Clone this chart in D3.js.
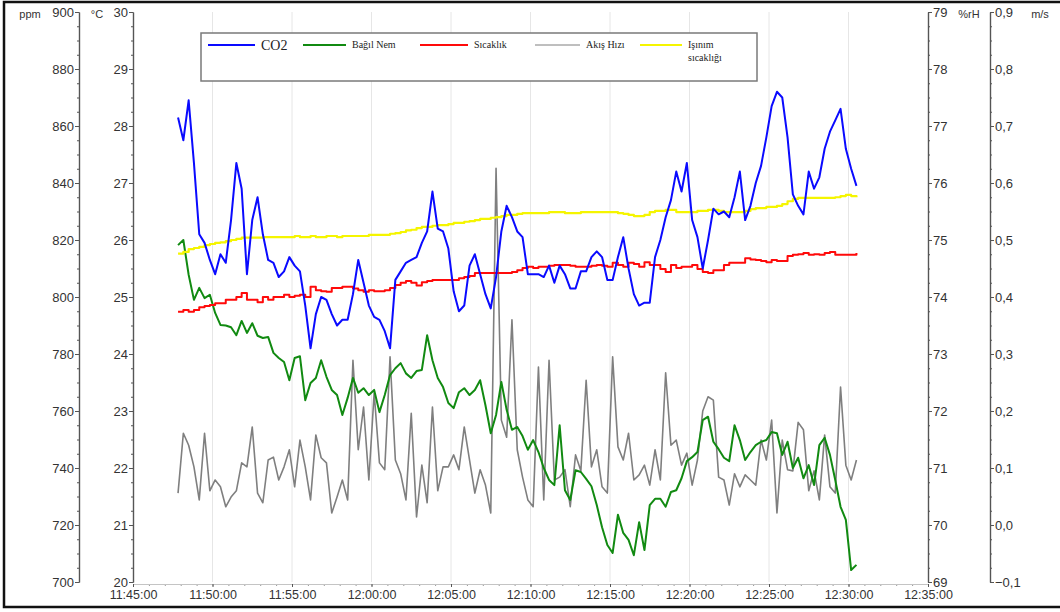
<!DOCTYPE html>
<html>
<head>
<meta charset="utf-8">
<script src="https://cdn.jsdelivr.net/npm/d3@7"></script>
<style>
  html, body { margin: 0; padding: 0; background: #fff; }
  svg { display: block; }
</style>
</head>
<body>
<div id="chart"></div>
<script>
// logger samples every 20 s starting at 11:47:50
const START_TIME = "11:47:50";
const STEP_SECONDS = 20;

const co2 = [
  863, 855, 869, 847, 822, 819, 813, 808, 815, 812,
  827, 847, 838, 808, 827, 835, 822, 813, 812, 807,
  809, 814, 811, 809, 797, 782, 794, 800, 799, 794,
  790, 792, 792, 801, 813, 805, 797, 793, 792, 788,
  782, 806, 809, 812, 813, 814, 819, 823, 837, 824,
  823, 817, 802, 795, 797, 811, 815, 808, 801, 796,
  807, 823, 832, 828, 823, 821, 808, 808, 808, 807,
  811, 805, 811, 808, 803, 803, 809, 809, 814, 816,
  814, 806, 806, 814, 821, 810, 801, 797, 798, 798,
  814, 820, 828, 834, 844, 837, 847, 827, 821, 810,
  820, 831, 829, 830, 828, 835, 844, 827, 832, 840,
  846, 856, 867, 872, 870, 856, 836, 832, 829, 844,
  838, 842, 852, 858, 862, 866, 852, 845, 839
];

const humidity = [
  74.91, 75.0, 74.39, 73.95, 74.16, 73.98, 74.04, 73.72, 73.51, 73.5,
  73.47, 73.33, 73.58, 73.37, 73.54, 73.32, 73.28, 73.3, 73.02, 72.93,
  72.86, 72.54, 72.93, 72.96, 72.19, 72.49, 72.58, 72.89, 72.6, 72.37,
  72.28, 71.93, 72.23, 72.58, 72.32, 72.4, 72.28, 72.37, 71.98, 72.28,
  72.63, 72.75, 72.84, 72.66, 72.58, 72.7, 72.72, 73.33, 72.89, 72.58,
  72.42, 72.14, 72.05, 72.33, 72.4, 72.28, 72.37, 72.54, 72.1, 71.61,
  71.93, 72.51, 72.02, 71.67, 71.72, 71.56, 71.32, 71.49, 71.28, 71.0,
  70.79, 70.7, 71.75, 70.61, 70.44, 70.96, 70.93, 70.81, 70.68, 70.35,
  69.96, 69.65, 69.51, 70.18, 69.86, 69.74, 69.47, 70.05, 69.56, 70.35,
  70.46, 70.46, 70.32, 70.58, 70.61, 70.82, 71.12, 71.19, 71.28, 71.84,
  71.9, 71.46, 71.33, 71.18, 71.12, 71.75, 71.49, 71.14, 71.28, 71.4,
  71.46, 71.49, 71.63, 71.61, 71.23, 71.46, 71.0, 71.18, 70.82, 71.05,
  70.7, 71.4, 71.53, 71.23, 70.79, 70.32, 70.09, 69.21, 69.3
];

const airSpeed = [
  0.056, 0.161, 0.14, 0.102, 0.044, 0.161, 0.06, 0.079, 0.067, 0.032,
  0.049, 0.06, 0.109, 0.102, 0.172, 0.056, 0.039, 0.114, 0.119, 0.079,
  0.102, 0.132, 0.067, 0.149, 0.102, 0.044, 0.158, 0.118, 0.109, 0.021,
  0.049, 0.079, 0.044, 0.289, 0.132, 0.207, 0.079, 0.232, 0.109, 0.097,
  0.295, 0.114, 0.09, 0.044, 0.196, 0.014, 0.105, 0.039, 0.207, 0.06,
  0.102, 0.102, 0.123, 0.097, 0.172, 0.114, 0.056, 0.097, 0.07, 0.021,
  0.626, 0.184, 0.154, 0.36, 0.132, 0.084, 0.044, 0.032, 0.277, 0.044,
  0.289, 0.079, 0.084, 0.097, 0.032, 0.123, 0.095, 0.254, 0.102, 0.132,
  0.067, 0.056, 0.295, 0.137, 0.114, 0.161, 0.079, 0.088, 0.105, 0.07,
  0.132, 0.079, 0.267, 0.14, 0.149, 0.105, 0.126, 0.07, 0.114, 0.2,
  0.225, 0.219, 0.084, 0.079, 0.035, 0.09, 0.067, 0.088, 0.079, 0.07,
  0.149, 0.114, 0.184, 0.021, 0.149, 0.097, 0.095, 0.18, 0.167, 0.06,
  0.095, 0.044, 0.158, 0.067, 0.056, 0.242, 0.105, 0.079, 0.114
];

const temperature = [
  24.74, 24.77, 24.74, 24.77, 24.82, 24.84, 24.86, 24.89, 24.89, 24.95,
  24.95, 25.0, 25.07, 24.95, 24.95, 24.91, 25.0, 24.95, 25.0, 25.0,
  25.04, 25.0, 25.02, 25.04, 25.0, 25.18, 25.12, 25.1, 25.09, 25.16,
  25.16, 25.18, 25.18, 25.15, 25.12, 25.09, 25.12, 25.1, 25.1, 25.12,
  25.16, 25.21, 25.25, 25.28, 25.25, 25.2, 25.26, 25.28, 25.3, 25.3,
  25.3, 25.3, 25.3, 25.33, 25.35, 25.37, 25.42, 25.42, 25.42, 25.42,
  25.42, 25.42, 25.42, 25.44, 25.47, 25.51, 25.53, 25.51, 25.53, 25.53,
  25.55, 25.56, 25.56, 25.56, 25.55, 25.53, 25.53, 25.53, 25.55, 25.56,
  25.55, 25.53, 25.6, 25.56, 25.53, 25.6, 25.58, 25.53, 25.61, 25.56,
  25.56, 25.49, 25.44, 25.56, 25.51, 25.53, 25.53, 25.56, 25.49, 25.44,
  25.42, 25.47, 25.47, 25.56, 25.6, 25.6, 25.6, 25.68, 25.66, 25.65,
  25.63, 25.61, 25.65, 25.63, 25.63, 25.72, 25.74, 25.75, 25.77, 25.74,
  25.75, 25.74, 25.77, 25.79, 25.74, 25.74, 25.74, 25.74, 25.77
];

const radiantTemp = [
  25.76, 25.79, 25.84, 25.86, 25.88, 25.91, 25.93, 25.95, 25.96, 25.98,
  26.0, 26.02, 26.04, 26.04, 26.04, 26.04, 26.05, 26.05, 26.05, 26.05,
  26.05, 26.05, 26.07, 26.05, 26.05, 26.07, 26.05, 26.05, 26.07, 26.07,
  26.05, 26.07, 26.07, 26.07, 26.07, 26.07, 26.09, 26.09, 26.09, 26.09,
  26.11, 26.12, 26.14, 26.17, 26.18, 26.21, 26.23, 26.23, 26.25, 26.26,
  26.26, 26.28, 26.3, 26.3, 26.32, 26.33, 26.35, 26.37, 26.37, 26.39,
  26.4, 26.42, 26.44, 26.44, 26.46, 26.47, 26.47, 26.47, 26.47, 26.47,
  26.49, 26.49, 26.49, 26.47, 26.47, 26.47, 26.49, 26.49, 26.49, 26.49,
  26.49, 26.49, 26.49, 26.47, 26.46, 26.44, 26.42, 26.42, 26.44, 26.49,
  26.51, 26.51, 26.53, 26.53, 26.49, 26.49, 26.49, 26.49, 26.51, 26.51,
  26.53, 26.53, 26.51, 26.49, 26.49, 26.49, 26.49, 26.51, 26.54, 26.56,
  26.56, 26.58, 26.58, 26.6, 26.63, 26.68, 26.72, 26.74, 26.74, 26.74,
  26.74, 26.74, 26.74, 26.74, 26.75, 26.77, 26.79, 26.77, 26.75
];

const ppmTicks = [700, 720, 740, 760, 780, 800, 820, 840, 860, 880, 900];
const celsiusTicks = [20, 21, 22, 23, 24, 25, 26, 27, 28, 29, 30];
const rhTicks = [69, 70, 71, 72, 73, 74, 75, 76, 77, 78, 79];
const msTicks = [-0.1, 0, 0.1, 0.2, 0.3, 0.4, 0.5, 0.6, 0.7, 0.8, 0.9];
const timeTicks = [
  "11:45:00", "11:50:00", "11:55:00", "12:00:00", "12:05:00", "12:10:00",
  "12:15:00", "12:20:00", "12:25:00", "12:30:00", "12:35:00"
];

const legendLabels = ["CO2", "Bağıl Nem", "Sıcaklık", "Akış Hızı", "Işınım sıcaklığı"];
const seriesColors = ["#0a0aff", "#118a11", "#ff0a0a", "#7f7f7f", "#f5f500"];

const WIDTH = 1060;
const HEIGHT = 612;
const PLOT = { top: 12, bottom: 582, left: 133, right: 928 };
const PPM_AXIS_X = 79;
const MS_AXIS_X = 990;
const FONT = '"Liberation Sans Narrow", "Liberation Sans", Arial, sans-serif';
const SERIF = '"Liberation Serif", "Times New Roman", serif';
const AXIS_COLOR = "#555";
const LABEL_COLOR = "#333";

const parseTime = d3.timeParse("%H:%M:%S");
const start = parseTime(START_TIME);
const times = co2.map((_, i) => d3.timeSecond.offset(start, i * STEP_SECONDS));

const x = d3
  .scaleTime()
  .domain(d3.extent(timeTicks, parseTime))
  .range([PLOT.left, PLOT.right]);
const yPpm = d3.scaleLinear().domain(d3.extent(ppmTicks)).range([PLOT.bottom, PLOT.top]);
const yC = d3.scaleLinear().domain(d3.extent(celsiusTicks)).range([PLOT.bottom, PLOT.top]);
const yRh = d3.scaleLinear().domain(d3.extent(rhTicks)).range([PLOT.bottom, PLOT.top]);
const yMs = d3.scaleLinear().domain(d3.extent(msTicks)).range([PLOT.bottom, PLOT.top]);

const svg = d3
  .select("#chart")
  .append("svg")
  .attr("width", WIDTH)
  .attr("height", HEIGHT)
  .attr("viewBox", [0, 0, WIDTH, HEIGHT]);

svg.append("rect").attr("width", WIDTH).attr("height", HEIGHT).attr("fill", "#fff");

// outer frame
svg
  .append("rect")
  .attr("x", 4)
  .attr("y", 2)
  .attr("width", WIDTH + 4)
  .attr("height", 605)
  .attr("fill", "none")
  .attr("stroke", "#111")
  .attr("stroke-width", 2.5);

// vertical grid
svg
  .append("g")
  .selectAll("line")
  .data(timeTicks.slice(1, -1).map(parseTime))
  .join("line")
  .attr("x1", (d) => x(d))
  .attr("x2", (d) => x(d))
  .attr("y1", PLOT.top)
  .attr("y2", PLOT.bottom)
  .attr("stroke", "#e6e6e6")
  .attr("stroke-width", 1);

function styleAxis(g) {
  g.select(".domain").attr("stroke", AXIS_COLOR).attr("stroke-width", 1.2);
  g.selectAll(".tick line").attr("stroke", AXIS_COLOR);
  g.selectAll(".tick text")
    .attr("fill", LABEL_COLOR)
    .attr("font-size", 13)
    .attr("font-family", FONT);
}

function minorAxis(axis, scale, step) {
  const [a, b] = scale.domain();
  return axis(scale)
    .tickValues(d3.range(a, b + step / 2, step))
    .tickSize(2)
    .tickSizeOuter(0)
    .tickFormat("");
}

const commaFormat = (d) => d3.format(".1f")(d).replace(".", ",");

// left axes
const gPpm = svg.append("g").attr("transform", `translate(${PPM_AXIS_X},0)`);
gPpm.call(minorAxis(d3.axisLeft, yPpm, 5)).call(styleAxis);
gPpm
  .append("g")
  .call(d3.axisLeft(yPpm).tickValues(ppmTicks).tickSize(4).tickSizeOuter(0).tickPadding(1))
  .call(styleAxis);

const gC = svg.append("g").attr("transform", `translate(${PLOT.left},0)`);
gC.call(minorAxis(d3.axisLeft, yC, 0.25)).call(styleAxis);
gC
  .append("g")
  .call(d3.axisLeft(yC).tickValues(celsiusTicks).tickSize(4).tickSizeOuter(0).tickPadding(1))
  .call(styleAxis);

// right axes
const gRh = svg.append("g").attr("transform", `translate(${PLOT.right},0)`);
gRh.call(minorAxis(d3.axisRight, yRh, 0.25)).call(styleAxis);
gRh
  .append("g")
  .call(d3.axisRight(yRh).tickValues(rhTicks).tickSize(4).tickSizeOuter(0).tickPadding(1))
  .call(styleAxis);

const gMs = svg.append("g").attr("transform", `translate(${MS_AXIS_X},0)`);
gMs.call(minorAxis(d3.axisRight, yMs, 0.025)).call(styleAxis);
gMs
  .append("g")
  .call(
    d3
      .axisRight(yMs)
      .tickValues(msTicks)
      .tickSize(4)
      .tickSizeOuter(0)
      .tickPadding(1)
      .tickFormat(commaFormat)
  )
  .call(styleAxis);

// time axis
const gX = svg.append("g").attr("transform", `translate(0,${PLOT.bottom + 2})`);
gX.call(
  d3
    .axisBottom(x)
    .ticks(d3.timeMinute.every(1))
    .tickSize(2)
    .tickSizeOuter(0)
    .tickFormat("")
)
  .call(styleAxis);
gX.select(".domain").attr("stroke", "#c4c4c4");
gX.selectAll(".tick line").attr("stroke", "#999");
gX
  .append("g")
  .call(
    d3
      .axisBottom(x)
      .tickValues(timeTicks.map(parseTime))
      .tickSize(3)
      .tickSizeOuter(0)
      .tickPadding(3)
      .tickFormat(d3.timeFormat("%H:%M:%S"))
  )
  .call(styleAxis);
gX.selectAll(".domain").attr("stroke", "#c4c4c4");
gX.selectAll(".tick text").attr("font-size", 12.5);

// unit labels
const units = [
  { text: "ppm", x: 30 },
  { text: "°C", x: 97 },
  { text: "%rH", x: 969 },
  { text: "m/s", x: 1040 },
];
svg
  .append("g")
  .selectAll("text")
  .data(units)
  .join("text")
  .attr("x", (d) => d.x)
  .attr("y", 18)
  .attr("text-anchor", "middle")
  .attr("font-size", 11)
  .attr("font-family", FONT)
  .attr("fill", LABEL_COLOR)
  .text((d) => d.text);

// series
const series = [
  { values: airSpeed, y: yMs, color: seriesColors[3], width: 1.6, curve: d3.curveLinear },
  { values: humidity, y: yRh, color: seriesColors[1], width: 2, curve: d3.curveLinear },
  { values: radiantTemp, y: yC, color: seriesColors[4], width: 2.2, curve: d3.curveStepAfter },
  { values: temperature, y: yC, color: seriesColors[2], width: 2, curve: d3.curveStepAfter },
  { values: co2, y: yPpm, color: seriesColors[0], width: 2, curve: d3.curveLinear },
];

svg
  .append("g")
  .selectAll("path")
  .data(series)
  .join("path")
  .attr("fill", "none")
  .attr("stroke", (d) => d.color)
  .attr("stroke-width", (d) => d.width)
  .attr("stroke-linejoin", "round")
  .attr("d", (d) =>
    d3
      .line()
      .curve(d.curve)
      .x((_, i) => x(times[i]))
      .y((v) => d.y(v))(d.values)
  );

// legend
const legend = svg.append("g");
legend
  .append("rect")
  .attr("x", 201)
  .attr("y", 33)
  .attr("width", 556)
  .attr("height", 48)
  .attr("fill", "#fff")
  .attr("stroke", "#7a7a7a")
  .attr("stroke-width", 1.5);

const legendX = [208, 303, 420, 535, 640];
const legendLineW = [47, 43, 48, 45, 42];
const legendWidth = [2.2, 2.2, 2.2, 1, 2.2];

legendLabels.forEach((label, i) => {
  const lx = legendX[i];
  legend
    .append("line")
    .attr("x1", lx)
    .attr("x2", lx + legendLineW[i])
    .attr("y1", 45)
    .attr("y2", 45)
    .attr("stroke", seriesColors[i])
    .attr("stroke-width", legendWidth[i]);
  const words = i === 4 ? label.split(" ") : [label];
  const t = legend
    .append("text")
    .attr("x", lx + legendLineW[i] + 6)
    .attr("y", i === 0 ? 50 : 48)
    .attr("font-family", SERIF)
    .attr("font-size", i === 0 ? 14 : 10)
    .attr("fill", "#222");
  words.forEach((w, k) => {
    t.append("tspan")
      .attr("x", lx + legendLineW[i] + 6)
      .attr("dy", k === 0 ? 0 : 13)
      .text(w);
  });
});
</script>
</body>
</html>
